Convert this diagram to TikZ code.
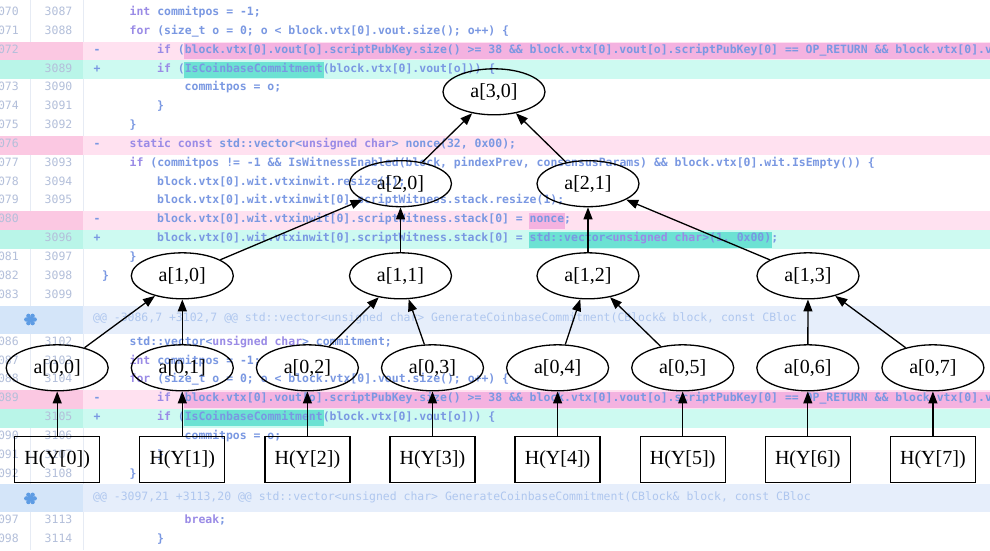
\documentclass[tikz,border=0pt]{standalone}
\usepackage{fontspec}
\usetikzlibrary{arrows.meta,shapes.geometric,calc}
\newfontfamily\codefont{DejaVu Sans Mono}
\newfontfamily\treefont{Liberation Serif}
\definecolor{pinkbg}{HTML}{FFE1F0}
\definecolor{pinkgut}{HTML}{FBC8E2}
\definecolor{pinkhl}{HTML}{F4B2E0}
\definecolor{greenbg}{HTML}{CDFAF1}
\definecolor{greengut}{HTML}{B9F5E8}
\definecolor{greenhl}{HTML}{6CE2D3}
\definecolor{hunkbg}{HTML}{E6EEFB}
\definecolor{hunkgut}{HTML}{D4E5F9}
\definecolor{codetxt}{HTML}{7A98E2}
\definecolor{kwtxt}{HTML}{9A8BE6}
\definecolor{numtxt}{HTML}{B3BFDA}
\definecolor{hunktxt}{HTML}{AFC7EF}
\definecolor{gutline}{HTML}{E6EBF4}
\definecolor{iconblue}{HTML}{5E9CE4}
\newcommand\kw[1]{\textcolor{kwtxt}{#1}}
\newcommand\codesize{\codefont\fontsize{11.46}{13}\selectfont}
% #1 name, #2 y, #3 old, #4 new, #5 x, #6 code
\newcommand\crow[6]{%
  \node[oldnum] (#1o) at (19,#2) {#3};
  \node[newnum] (#1n) at (72.5,#2) {#4};
  \node[codetext] (#1c) at (#5,#2) {#6};}
% row with only old number and a "-" marker
\newcommand\delrow[5]{%
  \node[oldnum] (#1o) at (19,#2) {#3};
  \node[diffsign] (#1m) at (97,#2) {-};
  \node[codetext] (#1c) at (#4,#2) {#5};}
% row with only new number and a "+" marker
\newcommand\addrow[5]{%
  \node[newnum] (#1n) at (72.5,#2) {#3};
  \node[diffsign] (#1m) at (97,#2) {+};
  \node[codetext] (#1c) at (#4,#2) {#5};}
\newcommand\unfoldicon[1]{%
  \fill[iconblue] (30.5,#1) circle (3.2);
  \foreach \a in {0,60,120,180,240,300}
    \fill[iconblue] ($(30.5,#1)+(\a:4.2)$) circle (2.2);}
\begin{document}
\begin{tikzpicture}[x=1pt,y=-1pt,
  codetext/.style={anchor=mid west,inner sep=0pt,font=\codesize\bfseries,text=codetxt},
  oldnum/.style={anchor=mid east,inner sep=0pt,font=\codesize,text=numtxt},
  newnum/.style={anchor=mid east,inner sep=0pt,font=\codesize,text=numtxt},
  diffsign/.style={anchor=mid,inner sep=0pt,font=\codesize\bfseries,text=codetxt},
  hunktext/.style={anchor=mid west,inner sep=0pt,font=\codesize,text=hunktxt},
  hashnode/.style={ellipse,draw,line width=1.3pt,minimum width=102pt,minimum height=46pt,inner sep=0pt,font=\treefont\fontsize{20}{24}\selectfont},
  leaf/.style={rectangle,draw,line width=1.3pt,minimum width=85pt,minimum height=46pt,inner sep=0pt,font=\treefont\fontsize{20}{24}\selectfont},
  arr/.style={line width=1.3pt,-{Triangle[length=12pt,width=9pt]}}
]
\useasboundingbox (0,0) rectangle (990,550);
\begin{scope}
\clip (0,0) rectangle (990,550);
\fill[white] (0,0) rectangle (990,550);
% gutter lines
\draw[gutline,line width=0.8pt] (30.5,0) -- (30.5,550);
\draw[gutline,line width=0.8pt] (83,0) -- (83,550);
% pink / green rows, block 1
\fill[pinkbg] (0,41.6) rectangle (990,60.4);  \fill[pinkgut] (0,41.6) rectangle (83,60.4);
\fill[pinkhl] (184,43) rectangle (990,59);
\fill[greenbg] (0,60.4) rectangle (990,79.3); \fill[greengut] (0,60.4) rectangle (83,79.3);
\fill[greenhl] (184,62) rectangle (324,78);
\fill[pinkbg] (0,135.8) rectangle (990,154.7); \fill[pinkgut] (0,135.8) rectangle (83,154.7);
\fill[pinkbg] (0,211.2) rectangle (990,230.1); \fill[pinkgut] (0,211.2) rectangle (83,230.1);
\fill[pinkhl] (529,212.6) rectangle (565,228.7);
\fill[greenbg] (0,230.1) rectangle (990,248.9); \fill[greengut] (0,230.1) rectangle (83,248.9);
\fill[greenhl] (529,231.5) rectangle (772,247.5);
% hunk 1
\fill[hunkbg] (0,305.5) rectangle (990,333.5); \fill[hunkgut] (0,305.5) rectangle (83,333.5);
% pink / green rows, block 2
\fill[pinkbg] (0,390.1) rectangle (990,409); \fill[pinkgut] (0,390.1) rectangle (83,409);
\fill[pinkhl] (184,391.5) rectangle (990,407.6);
\fill[greenbg] (0,409) rectangle (990,427.8); \fill[greengut] (0,409) rectangle (83,427.8);
\fill[greenhl] (184,410.4) rectangle (324,426.4);
% hunk 2
\fill[hunkbg] (0,484.4) rectangle (990,512.4); \fill[hunkgut] (0,484.4) rectangle (83,512.4);
\unfoldicon{319.5}
\unfoldicon{498.4}
% code, block 1
\crow{ra}{13.3}{3070}{3087}{129.5}{\kw{int} commitpos = -1;}
\crow{rb}{32.15}{3071}{3088}{129.5}{\kw{for} (size\_t o = 0; o < block.vtx[0].vout.size(); o++) \{}
\delrow{rc}{51.0}{3072}{157}{\kw{if} (block.vtx[0].vout[o].scriptPubKey.size() >= 38 \&\& block.vtx[0].vout[o].scriptPubKey[0] == OP\_RETURN \&\& block.vtx[0].vout[o].scriptPubKey[1] == 0x24}
\addrow{rd}{69.85}{3089}{157}{\kw{if} (IsCoinbaseCommitment(block.vtx[0].vout[o])) \{}
\crow{re}{88.7}{3073}{3090}{184.5}{commitpos = o;}
\crow{rf}{107.55}{3074}{3091}{157}{\}}
\crow{rg}{126.4}{3075}{3092}{129.5}{\}}
\delrow{rh}{145.25}{3076}{129.5}{\kw{static const} std::vector<\kw{unsigned char}> nonce(32, 0x00);}
\crow{ri}{164.1}{3077}{3093}{129.5}{\kw{if} (commitpos != -1 \&\& IsWitnessEnabled(block, pindexPrev, consensusParams) \&\& block.vtx[0].wit.IsEmpty()) \{}
\crow{rj}{182.95}{3078}{3094}{157}{block.vtx[0].wit.vtxinwit.resize(1);}
\crow{rk}{201.8}{3079}{3095}{157}{block.vtx[0].wit.vtxinwit[0].scriptWitness.stack.resize(1);}
\delrow{rl}{220.65}{3080}{157}{block.vtx[0].wit.vtxinwit[0].scriptWitness.stack[0] = nonce;}
\addrow{rm}{239.5}{3096}{157}{block.vtx[0].wit.vtxinwit[0].scriptWitness.stack[0] = std::vector<\kw{unsigned char}>(1, 0x00);}
\crow{rn}{258.35}{3081}{3097}{129.5}{\}}
\crow{rp}{277.2}{3082}{3098}{102}{\}}
\node[oldnum] (rqo) at (19,296.05) {3083};
\node[newnum] (rqn) at (72.5,296.05) {3099};
\node[hunktext] (hunka) at (93,319.5) {@@ -3086,7 +3102,7 @@ std::vector<unsigned char> GenerateCoinbaseCommitment(CBlock\& block, const CBloc};
% code, block 2
\crow{sa}{343}{3086}{3102}{129.5}{std::vector<\kw{unsigned char}> commitment;}
\crow{sb}{361.85}{3087}{3103}{129.5}{\kw{int} commitpos = -1;}
\crow{sc}{380.7}{3088}{3104}{129.5}{\kw{for} (size\_t o = 0; o < block.vtx[0].vout.size(); o++) \{}
\delrow{sd}{399.55}{3089}{157}{\kw{if} (block.vtx[0].vout[o].scriptPubKey.size() >= 38 \&\& block.vtx[0].vout[o].scriptPubKey[0] == OP\_RETURN \&\& block.vtx[0].vout[o].scriptPubKey[1] == 0x24}
\addrow{se}{418.4}{3105}{157}{\kw{if} (IsCoinbaseCommitment(block.vtx[0].vout[o])) \{}
\crow{sf}{437.25}{3090}{3106}{184.5}{commitpos = o;}
\crow{sg}{456.1}{3091}{3107}{157}{\}}
\crow{sh}{474.95}{3092}{3108}{129.5}{\}}
\node[hunktext] (hunkb) at (93,498.4) {@@ -3097,21 +3113,20 @@ std::vector<unsigned char> GenerateCoinbaseCommitment(CBlock\& block, const CBloc};
\crow{ta}{521.7}{3097}{3113}{184.5}{\kw{break};}
\crow{tb}{540.5}{3098}{3114}{157}{\}}
\end{scope}
% Merkle tree
\node[hashnode] (a30) at (494,91.8) {a[3,0]};
\node[hashnode] (a20) at (400.5,183.7) {a[2,0]};
\node[hashnode] (a21) at (588,183.7) {a[2,1]};
\node[hashnode] (a10) at (182.3,275.8) {a[1,0]};
\node[hashnode] (a11) at (400.5,275.8) {a[1,1]};
\node[hashnode] (a12) at (588,275.8) {a[1,2]};
\node[hashnode] (a13) at (808,275.8) {a[1,3]};
\foreach \i in {0,...,7}{
  \node[hashnode] (a0\i) at (57.2+125.1*\i,367.8) {a[0,\i]};
  \node[leaf] (h\i) at (57.2+125.1*\i,459.7) {H(Y[\i])};
  \draw[arr] (h\i) -- (a0\i);
}
\draw[arr] (a00) -- (a10);
\draw[arr] (a01) -- (a10);
\draw[arr] (a02) -- (a11);
\draw[arr] (a03) -- (a11);
\draw[arr] (a04) -- (a12);
\draw[arr] (a05) -- (a12);
\draw[arr] (a06) -- (a13);
\draw[arr] (a07) -- (a13);
\draw[arr] (a10) -- (a20);
\draw[arr] (a11) -- (a20);
\draw[arr] (a12) -- (a21);
\draw[arr] (a13) -- (a21);
\draw[arr] (a20) -- (a30);
\draw[arr] (a21) -- (a30);
\end{tikzpicture}
\end{document}
